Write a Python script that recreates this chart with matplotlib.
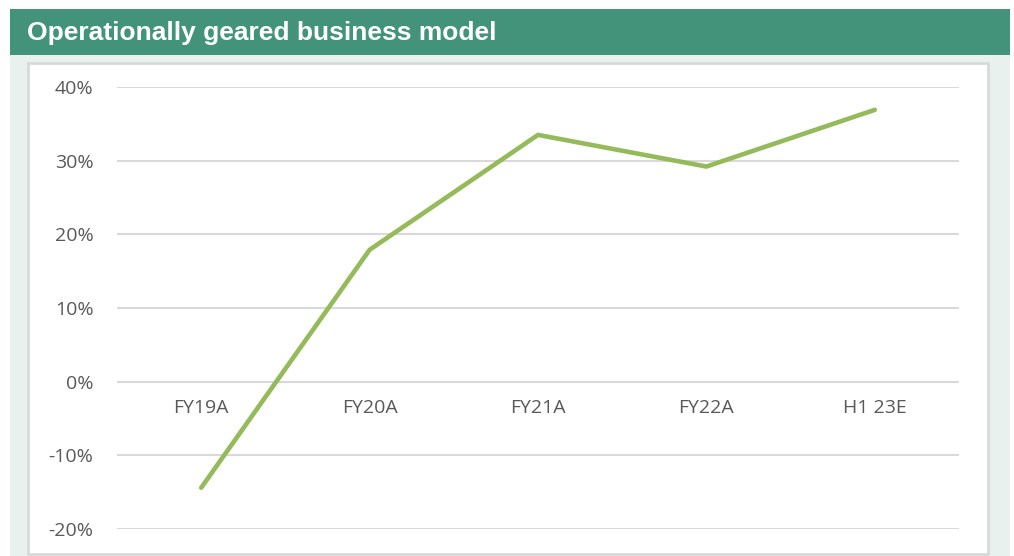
import matplotlib
matplotlib.use('Agg')
import matplotlib.pyplot as plt
from matplotlib.patches import Rectangle

categories = ['FY19A', 'FY20A', 'FY21A', 'FY22A', 'H1 23E']
values = [-14.4, 17.9, 33.5, 29.2, 36.9]
yticks = [-20, -10, 0, 10, 20, 30, 40]

W, H = 1014, 556
fig = plt.figure(figsize=(W / 100, H / 100), dpi=100)
fig.patch.set_facecolor('white')

def px_rect(x0, y0, x1, y1, **kw):
    # pixel coords with y from top
    fig.patches.append(Rectangle((x0 / W, 1 - y1 / H), (x1 - x0) / W, (y1 - y0) / H,
                                 transform=fig.transFigure, figure=fig, **kw))

# panel background, header, chart box
px_rect(10, 55, 1010, 556, fc='#E9F1EF', ec='none', zorder=-3)
px_rect(10, 9, 1010, 55, fc='#43937A', ec='none', zorder=-3)
px_rect(28, 63, 988, 554, fc='white', ec='#D9D9D9', lw=2, zorder=-2)
fig.text(27 / W, 1 - 33 / H, 'Operationally geared business model', color='white',
         fontsize=19, fontweight='bold', family='Liberation Sans', va='center', ha='left')

ax = fig.add_axes([117 / W, 1 - 529 / H, 842 / W, 442 / H])
ax.set_facecolor('none')
x = list(range(len(categories)))
ax.plot(x, values, color='#95BA59', lw=3.3, solid_capstyle='round', zorder=3)

ax.set_xlim(-0.5, len(categories) - 0.5)
ax.set_ylim(-20, 40)
ax.set_yticks(yticks)
ax.set_yticklabels([f'{v}%' for v in yticks], color='#595959', fontsize=14,
                   family='Open Sans')
ax.tick_params(axis='y', length=0, pad=17)
ax.set_xticks([])
ax.grid(axis='y', color='#D9D9D9', lw=1.5)
ax.set_axisbelow(True)
for s in ax.spines.values():
    s.set_visible(False)

for i, c in enumerate(categories):
    ax.annotate(c, xy=(i, 0), xytext=(0, -26), textcoords='offset pixels',
                ha='center', va='center', color='#595959', fontsize=14,
                family='Open Sans')

fig.savefig('out.png', dpi=100)
